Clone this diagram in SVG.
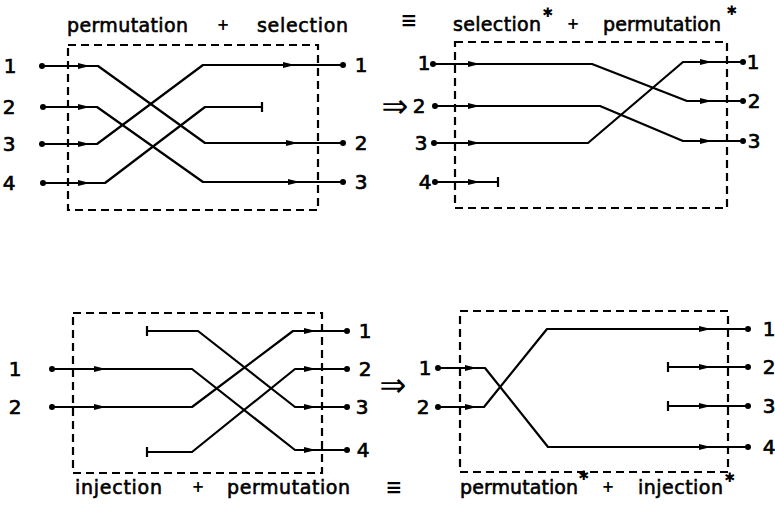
<svg xmlns="http://www.w3.org/2000/svg" xmlns:xlink="http://www.w3.org/1999/xlink" width="775" height="509" viewBox="0 0 775 509">
  <style>
    .wire { fill: none; stroke: #000; stroke-width: 2.2; stroke-linejoin: round; }
    .box { fill: none; stroke: #000; stroke-width: 2.2; stroke-dasharray: 8 5; }
    .lbl { font-family: "DejaVu Sans", "Liberation Sans", sans-serif; font-size: 20px; fill: #000; stroke: #000; stroke-width: 0.7; }
    .num { text-anchor: middle; }
    .cap { font-family: "DejaVu Sans", "Liberation Sans", sans-serif; font-size: 19px; fill: #000; stroke: #000; stroke-width: 0.6; }
    .plus { font-family: "DejaVu Sans", sans-serif; font-size: 15px; font-weight: bold; text-anchor: middle; }
    .star { font-family: "DejaVu Sans", sans-serif; font-size: 13px; font-weight: bold; text-anchor: middle; }
    .sym { font-family: "DejaVu Sans", sans-serif; text-anchor: middle; fill: #000; }
  </style>
  <defs>
    <path id="ah" d="M-8,-3 L4,0 L-8,3 Z" fill="#000"/>
    <circle id="pt" r="3" fill="#000"/>
  </defs>

  <rect width="775" height="509" fill="#fff"/>

  <!-- dashed enclosures -->
  <g id="boxes">
    <rect id="box-tl" class="box" x="68" y="45" width="250" height="165"/>
    <rect id="box-tr" class="box" x="455" y="42" width="272" height="166"/>
    <rect id="box-bl" class="box" x="73" y="313" width="249" height="160"/>
    <rect id="box-br" class="box" x="460" y="311" width="268" height="161"/>
  </g>

  <!-- wires -->
  <g id="connectors">
    <!-- permutation + selection -->
    <path class="wire" d="M42,66 H98 L205,143 H343"/>
    <path class="wire" d="M43,107 H97 L203,182 H343"/>
    <path class="wire" d="M42,144 H97 L203,65 H343"/>
    <path class="wire" d="M43,183 H105 L205,107 H262 M262,102 V112"/>
    <!-- selection* + permutation* -->
    <path class="wire" d="M433,64 H592 L687,101 H743"/>
    <path class="wire" d="M435,106 H600 L683,141 H743"/>
    <path class="wire" d="M434,143 H588 L683,62 H743"/>
    <path class="wire" d="M435,182 H498 M498,177 V187"/>
    <!-- injection + permutation -->
    <path class="wire" d="M147,326 V336 M147,331 H198 L295,407 H347"/>
    <path class="wire" d="M52,369 H192 L295,450 H347"/>
    <path class="wire" d="M52,407 H192 L293,331 H347"/>
    <path class="wire" d="M147,447 V457 M147,452 H192 L295,369 H347"/>
    <!-- permutation* + injection* -->
    <path class="wire" d="M438,368 H485 L548,447 H748"/>
    <path class="wire" d="M438,407 H484 L547,329 H748"/>
    <path class="wire" d="M668,362 V372 M668,367 H748"/>
    <path class="wire" d="M668,401 V411 M668,406 H748"/>
  </g>

  <!-- terminals and arrowheads -->
  <g id="terminals">
    <use href="#pt" x="42" y="66"/><use href="#pt" x="43" y="107"/><use href="#pt" x="42" y="144"/><use href="#pt" x="43" y="183"/>
    <use href="#pt" x="343" y="65"/><use href="#pt" x="343" y="143"/><use href="#pt" x="343" y="182"/>
    <use href="#ah" x="86" y="66"/><use href="#ah" x="86" y="107"/><use href="#ah" x="86" y="144"/><use href="#ah" x="86" y="183"/>
    <use href="#ah" x="291" y="65"/><use href="#ah" x="294" y="143"/><use href="#ah" x="296" y="182"/>

    <use href="#pt" x="433" y="64"/><use href="#pt" x="435" y="106"/><use href="#pt" x="434" y="143"/><use href="#pt" x="435" y="182"/>
    <use href="#pt" x="743" y="62"/><use href="#pt" x="743" y="101"/><use href="#pt" x="743" y="141"/>
    <use href="#ah" x="476" y="64"/><use href="#ah" x="476" y="106"/><use href="#ah" x="476" y="143"/><use href="#ah" x="476" y="182"/>
    <use href="#ah" x="708" y="62"/><use href="#ah" x="708" y="101"/><use href="#ah" x="708" y="141"/>

    <use href="#pt" x="52" y="369"/><use href="#pt" x="52" y="407"/>
    <use href="#pt" x="347" y="331"/><use href="#pt" x="347" y="369"/><use href="#pt" x="347" y="407"/><use href="#pt" x="347" y="450"/>
    <use href="#ah" x="102" y="369"/><use href="#ah" x="102" y="407"/>
    <use href="#ah" x="312" y="331"/><use href="#ah" x="312" y="369"/><use href="#ah" x="312" y="407"/><use href="#ah" x="312" y="450"/>

    <use href="#pt" x="438" y="368"/><use href="#pt" x="438" y="407"/>
    <use href="#pt" x="748" y="329"/><use href="#pt" x="748" y="367"/><use href="#pt" x="748" y="406"/><use href="#pt" x="748" y="447"/>
    <use href="#ah" x="473" y="368"/><use href="#ah" x="473" y="407"/>
    <use href="#ah" x="707" y="329"/><use href="#ah" x="707" y="367"/><use href="#ah" x="707" y="406"/><use href="#ah" x="707" y="447"/>
  </g>

  <!-- port numbers -->
  <g id="numbers" class="lbl num">
    <text x="10" y="73">1</text><text x="9" y="114">2</text><text x="9" y="151">3</text><text x="9" y="190">4</text>
    <text x="361" y="72">1</text><text x="361" y="150">2</text><text x="361" y="189">3</text>

    <text x="424" y="70">1</text><text x="419" y="113">2</text><text x="421" y="150">3</text><text x="425" y="189">4</text>
    <text x="753" y="69">1</text><text x="754" y="108">2</text><text x="754" y="148">3</text>

    <text x="15" y="376">1</text><text x="15" y="414">2</text>
    <text x="365" y="338">1</text><text x="365" y="376">2</text><text x="362" y="414">3</text><text x="363" y="457">4</text>

    <text x="425" y="375">1</text><text x="423" y="414">2</text>
    <text x="769" y="336">1</text><text x="769" y="374">2</text><text x="769" y="413">3</text><text x="769" y="454">4</text>
  </g>

  <!-- captions -->
  <g id="captions">
    <text class="cap" x="67" y="32" textLength="121" lengthAdjust="spacing">permutation</text>
    <text class="plus" x="223" y="30">+</text>
    <text class="cap" x="257" y="32" textLength="91" lengthAdjust="spacing">selection</text>

    <text class="sym" x="409" y="27" font-size="20" font-weight="bold">≡</text>

    <text class="cap" x="453" y="31" textLength="88" lengthAdjust="spacing">selection</text>
    <text class="star" x="548" y="17">✱</text>
    <text class="plus" x="573" y="29">+</text>
    <text class="cap" x="603" y="31" textLength="118" lengthAdjust="spacing">permutation</text>
    <text class="star" x="732" y="15">✱</text>

    <text class="cap" x="75" y="494" textLength="87" lengthAdjust="spacing">injection</text>
    <text class="plus" x="198" y="492">+</text>
    <text class="cap" x="227" y="494" textLength="123" lengthAdjust="spacing">permutation</text>

    <text class="sym" x="394" y="494" font-size="20" font-weight="bold">≡</text>

    <text class="cap" x="460" y="494" textLength="118" lengthAdjust="spacing">permutation</text>
    <text class="star" x="584" y="480">✱</text>
    <text class="plus" x="608" y="492">+</text>
    <text class="cap" x="638" y="494" textLength="85" lengthAdjust="spacing">injection</text>
    <text class="star" x="730" y="482">✱</text>
  </g>

  <!-- implication arrows -->
  <g id="implies">
    <text class="sym" x="395" y="117" font-size="32">⇒</text>
    <text class="sym" x="393" y="396" font-size="32">⇒</text>
  </g>
</svg>
